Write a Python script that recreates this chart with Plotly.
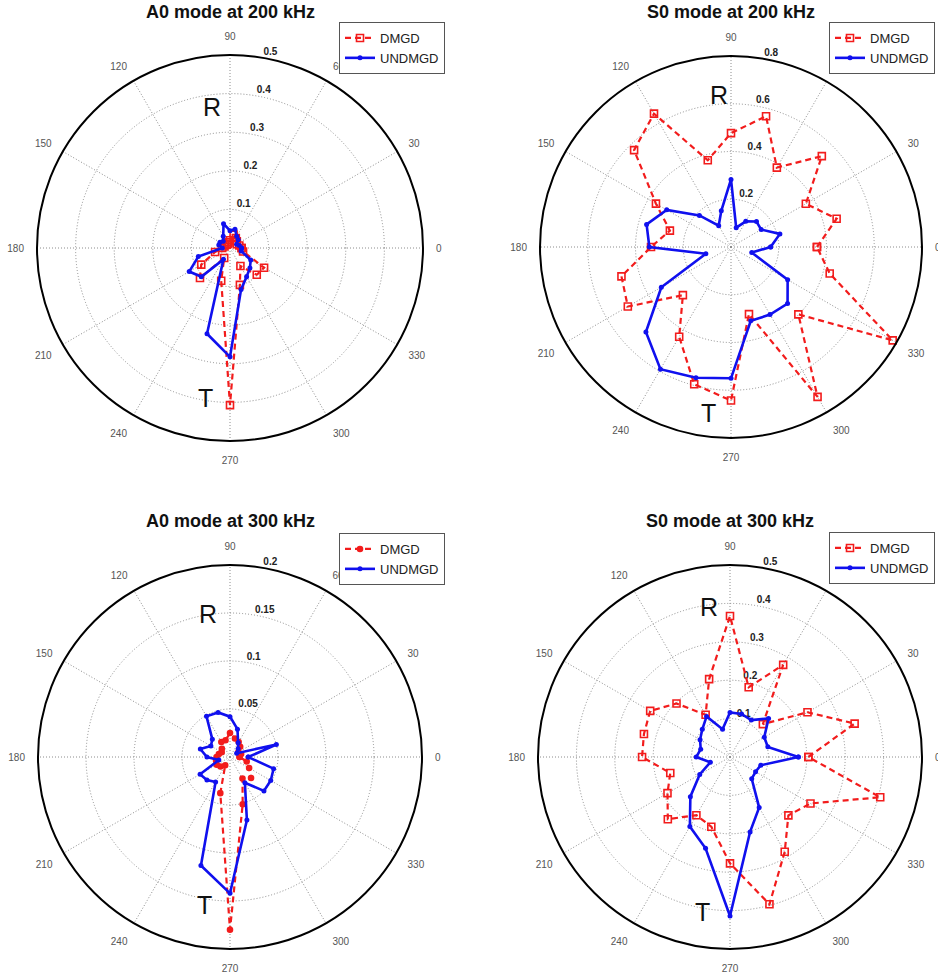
import plotly.graph_objects as go

# Incident angle of the measurement path (degrees), 24 directions
theta = [0, 15, 30, 45, 60, 75, 90, 105, 120, 135, 150, 165,
         180, 195, 210, 225, 240, 255, 270, 285, 300, 315, 330, 345]

# A0 mode, 200 kHz
a0_200_dmgd = [0.030, 0.025, 0.020, 0.025, 0.030, 0.036, 0.020, 0.015, 0.012, 0.012, 0.015, 0.015,
               0.020, 0.040, 0.086, 0.110, 0.030, 0.088, 0.407, 0.099, 0.054, 0.098, 0.102, 0.035]
a0_200_undmgd = [0.030, 0.025, 0.020, 0.030, 0.035, 0.050, 0.045, 0.065, 0.035, 0.025, 0.030, 0.030,
                 0.020, 0.085, 0.122, 0.105, 0.034, 0.230, 0.282, 0.111, 0.086, 0.073, 0.062, 0.030]

# S0 mode, 200 kHz
s0_200_dmgd = [0.360, 0.458, 0.362, 0.538, 0.384, 0.567, 0.477, 0.376, 0.645, 0.574, 0.363, 0.265,
               0.335, 0.475, 0.499, 0.285, 0.434, 0.595, 0.643, 0.291, 0.725, 0.399, 0.782, 0.428]
s0_200_undmgd = [0.166, 0.212, 0.146, 0.151, 0.124, 0.084, 0.283, 0.157, 0.103, 0.187, 0.311, 0.366,
                 0.342, 0.109, 0.337, 0.504, 0.591, 0.567, 0.550, 0.320, 0.327, 0.335, 0.274, 0.090]

# A0 mode, 300 kHz
a0_300_dmgd = [0.010, 0.012, 0.010, 0.015, 0.018, 0.020, 0.025, 0.018, 0.018, 0.012, 0.010, 0.012,
               0.014, 0.015, 0.016, 0.014, 0.010, 0.039, 0.180, 0.051, 0.026, 0.031, 0.023, 0.018]
a0_300_undmgd = [0.019, 0.050, 0.008, 0.012, 0.017, 0.030, 0.042, 0.048, 0.049, 0.026, 0.023, 0.032,
                 0.024, 0.012, 0.036, 0.034, 0.030, 0.117, 0.142, 0.068, 0.031, 0.050, 0.049, 0.047]

# S0 mode, 300 kHz
s0_300_dmgd = [0.204, 0.336, 0.233, 0.121, 0.277, 0.188, 0.367, 0.210, 0.127, 0.197, 0.240, 0.232,
               0.229, 0.161, 0.188, 0.229, 0.175, 0.188, 0.277, 0.397, 0.285, 0.215, 0.242, 0.405]
s0_300_undmgd = [0.178, 0.102, 0.103, 0.142, 0.111, 0.116, 0.116, 0.075, 0.122, 0.102, 0.090, 0.079,
                 0.088, 0.053, 0.091, 0.146, 0.209, 0.246, 0.414, 0.202, 0.152, 0.080, 0.077, 0.083]

titles = ["A0 mode at 200 kHz", "S0 mode at 200 kHz", "A0 mode at 300 kHz", "S0 mode at 300 kHz"]
radial_max = [0.5, 0.8, 0.2, 0.5]
radial_step = [0.1, 0.2, 0.05, 0.1]
dmgd_series = [a0_200_dmgd, s0_200_dmgd, a0_300_dmgd, s0_300_dmgd]
undmgd_series = [a0_200_undmgd, s0_200_undmgd, a0_300_undmgd, s0_300_undmgd]
dmgd_symbol = ["square-open", "square-open", "circle", "square-open"]
RADIAL_LABEL_ANGLE = 80

W, H = 938, 978
# panel geometry in pixels: centre x, centre y, radius
panels = [(230, 248, 193), (731, 247, 191), (230, 757, 192), (730, 757, 192)]
# legend box: right edge x, top y
legend_pos = [(445, 22), (935, 22), (445, 533), (935, 532)]
title_y = [12, 12, 521, 521]
r_pos = [(212, 107), (719, 95), (208, 614), (709, 607)]
t_pos = [(205, 398), (708, 413), (204, 905), (702, 912)]

RED = "#f21c1c"
BLUE = "#1010ee"
GRID = "#8c8c8c"
FONT = "Liberation Sans, Arial, sans-serif"


def closed(v):
    return list(v) + [v[0]]


fig = go.Figure()
layout = {}
annotations = []

for i in range(4):
    pid = "polar" if i == 0 else f"polar{i + 1}"
    lid = "legend" if i == 0 else f"legend{i + 1}"
    rmax = radial_max[i]
    step = radial_step[i]
    ticks = [round(step * k, 4) for k in range(1, int(round(rmax / step)) + 1)]

    # radial scale labels, set just above each ring
    fig.add_trace(go.Scatterpolar(
        r=ticks, theta=[RADIAL_LABEL_ANGLE] * len(ticks), mode="text",
        text=[f"{t:g}" for t in ticks], textposition="top right",
        textfont=dict(family=FONT, size=10, color="#222", weight="bold"),
        subplot=pid, showlegend=False, hoverinfo="skip", cliponaxis=False,
    ))
    fig.add_trace(go.Scatterpolar(
        r=closed(dmgd_series[i]), theta=closed(theta), mode="lines+markers",
        name="DMGD", subplot=pid, legend=lid,
        line=dict(color=RED, width=2.2, dash="6px,4px"),
        marker=dict(symbol=dmgd_symbol[i], size=7 if i != 2 else 5, color=RED,
                    line=dict(color=RED, width=1.6)),
    ))
    fig.add_trace(go.Scatterpolar(
        r=closed(undmgd_series[i]), theta=closed(theta), mode="lines+markers",
        name="UNDMGD", subplot=pid, legend=lid,
        line=dict(color=BLUE, width=2.6),
        marker=dict(symbol="circle", size=5, color=BLUE),
    ))

    cx, cy, rad = panels[i]
    layout[pid] = dict(
        domain=dict(x=[(cx - rad) / W, (cx + rad) / W],
                    y=[1 - (cy + rad) / H, 1 - (cy - rad) / H]),
        bgcolor="white",
        radialaxis=dict(
            range=[0, rmax], tickvals=ticks, showticklabels=False,
            showline=False, ticks="",
            showgrid=True, gridcolor=GRID, gridwidth=1, griddash="1px,2px",
        ),
        angularaxis=dict(
            tickvals=list(range(0, 360, 30)), ticktext=[str(a) for a in range(0, 360, 30)],
            direction="counterclockwise", rotation=0,
            showline=True, linecolor="black", linewidth=2,
            ticks="outside", ticklen=10, tickcolor="rgba(0,0,0,0)",
            tickfont=dict(family=FONT, size=10, color="#555"),
            showgrid=True, gridcolor=GRID, gridwidth=1, griddash="1px,2px",
        ),
    )
    lx, ly = legend_pos[i]
    layout[lid] = dict(
        x=lx / W, y=1 - ly / H, xanchor="right", yanchor="top",
        bgcolor="white", bordercolor="#555", borderwidth=1,
        font=dict(family=FONT, size=13, color="#222"),
        tracegroupgap=0, itemwidth=30,
    )
    annotations.append(dict(
        text=f"<b>{titles[i]}</b>", x=cx / W, y=1 - title_y[i] / H,
        xref="paper", yref="paper", showarrow=False, xanchor="center", yanchor="middle",
        font=dict(family=FONT, size=18, color="#111"),
    ))
    for txt, (px, py) in (("R", r_pos[i]), ("T", t_pos[i])):
        annotations.append(dict(
            text=txt, x=px / W, y=1 - py / H, xref="paper", yref="paper",
            showarrow=False, xanchor="center", yanchor="middle",
            font=dict(family=FONT, size=25, color="#111"),
        ))

fig.update_layout(
    width=W, height=H, margin=dict(l=0, r=0, t=0, b=0),
    paper_bgcolor="white", plot_bgcolor="white",
    showlegend=True, annotations=annotations, **layout,
)

fig.write_html("out.html")
